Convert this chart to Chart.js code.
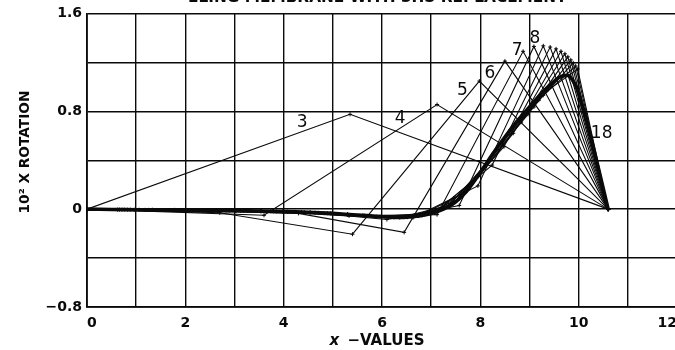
<!DOCTYPE html>
<html>
<head>
<meta charset="utf-8">
<script src="https://cdn.jsdelivr.net/npm/chart.js@4.4.1/dist/chart.umd.min.js"></script>
<style>
  html, body { margin: 0; padding: 0; overflow: hidden; background: #fff; }
  #wrap { position: relative; width: 700px; height: 350px; }
</style>
</head>
<body>
<div id="wrap"><canvas id="chart" width="700" height="350"></canvas></div>
<script>
// Polygonal solutions for n = 3 … 18 stations (x position, 10^2 x rotation)
const curve3X = [0, 5.35, 10.6];
const curve3Y = [0, 0.775, 0];
const curve4X = [0, 3.6, 7.12, 10.6];
const curve4Y = [0, -0.05, 0.855, 0];
const curve5X = [0, 2.7, 5.4, 7.98, 10.6];
const curve5Y = [0, -0.03, -0.205, 1.047, 0];
const curve6X = [0, 2.15, 4.3, 6.45, 8.5, 10.6];
const curve6Y = [0, -0.012, -0.035, -0.19, 1.21, 0];
const curve7X = [0, 1.78, 3.55, 5.33, 7.12, 8.87, 10.6];
const curve7Y = [0, -0.006, -0.017, -0.055, -0.045, 1.29, 0];
const curve8X = [0, 1.51, 3.03, 4.54, 6.1, 7.57, 9.09, 10.6];
const curve8Y = [0, -0.007, -0.013, -0.027, -0.085, 0.03, 1.33, 0];
const curve9X = [0, 1.33, 2.65, 3.98, 5.3, 6.63, 7.95, 9.28, 10.6];
const curve9Y = [0, -0.006, -0.012, -0.02, -0.045, -0.07, 0.19, 1.335, 0];
const curve10X = [0, 1.18, 2.36, 3.53, 4.71, 5.89, 7.07, 8.24, 9.42, 10.6];
const curve10Y = [0, -0.006, -0.011, -0.017, -0.03, -0.062, -0.03, 0.36, 1.325, 0];
const curve11X = [0, 1.06, 2.12, 3.18, 4.24, 5.3, 6.36, 7.42, 8.48, 9.54, 10.6];
const curve11Y = [0, -0.005, -0.01, -0.014, -0.023, -0.044, -0.068, 0.035, 0.51, 1.31, 0];
const curve12X = [0, 0.96, 1.93, 2.89, 3.85, 4.82, 5.78, 6.75, 7.71, 8.67, 9.64, 10.6];
const curve12Y = [0, -0.005, -0.009, -0.013, -0.019, -0.032, -0.056, -0.057, 0.14, 0.62, 1.29, 0];
const curve13X = [0, 0.88, 1.77, 2.65, 3.53, 4.42, 5.3, 6.18, 7.07, 7.95, 8.83, 9.72, 10.6];
const curve13Y = [0, -0.004, -0.008, -0.012, -0.016, -0.025, -0.043, -0.066, -0.027, 0.265, 0.71, 1.27, 0];
const curve14X = [0, 0.82, 1.63, 2.45, 3.26, 4.08, 4.89, 5.71, 6.52, 7.34, 8.15, 8.97, 9.78, 10.6];
const curve14Y = [0, -0.004, -0.007, -0.011, -0.015, -0.021, -0.033, -0.054, -0.066, 0.02, 0.385, 0.775, 1.245, 0];
const curve15X = [0, 0.76, 1.51, 2.27, 3.03, 3.79, 4.54, 5.3, 6.06, 6.81, 7.57, 8.33, 9.09, 9.84, 10.6];
const curve15Y = [0, -0.004, -0.007, -0.01, -0.013, -0.018, -0.027, -0.043, -0.063, -0.052, 0.085, 0.49, 0.835, 1.22, 0];
const curve16X = [0, 0.71, 1.41, 2.12, 2.83, 3.53, 4.24, 4.95, 5.65, 6.36, 7.07, 7.77, 8.48, 9.19, 9.89, 10.6];
const curve16Y = [0, -0.004, -0.007, -0.009, -0.012, -0.016, -0.023, -0.034, -0.052, -0.066, -0.025, 0.17, 0.575, 0.89, 1.195, 0];
const curve17X = [0, 0.66, 1.33, 1.99, 2.65, 3.31, 3.98, 4.64, 5.3, 5.96, 6.63, 7.29, 7.95, 8.61, 9.28, 9.94, 10.6];
const curve17Y = [0, -0.004, -0.006, -0.009, -0.012, -0.015, -0.02, -0.029, -0.043, -0.061, -0.061, 0.01, 0.27, 0.65, 0.93, 1.17, 0];
const curve18X = [0, 0.62, 1.25, 1.87, 2.49, 3.12, 3.74, 4.36, 4.99, 5.61, 6.24, 6.86, 7.48, 8.11, 8.73, 9.35, 9.98, 10.6];
const curve18Y = [0, -0.004, -0.006, -0.008, -0.011, -0.014, -0.018, -0.023, -0.035, -0.051, -0.067, -0.046, 0.055, 0.365, 0.71, 0.965, 1.145, 0];

// Converged solution (heavy line)
const limitX = [0, 0.5, 1, 1.5, 2, 2.5, 3, 3.5, 4, 4.5, 5, 5.5, 6, 6.25, 6.5, 6.75, 7, 7.25, 7.5, 7.75, 8, 8.25, 8.5, 8.75, 9, 9.25, 9.5, 9.65, 9.8, 9.95, 10.15, 10.35, 10.6];
const limitY = [0, -0.003, -0.005, -0.007, -0.009, -0.011, -0.013, -0.016, -0.02, -0.026, -0.035, -0.048, -0.062, -0.067, -0.066, -0.055, -0.035, 0, 0.06, 0.16, 0.3, 0.45, 0.59, 0.72, 0.835, 0.95, 1.045, 1.085, 1.09, 1.0, 0.74, 0.42, 0];

const curveNames = ['3','4','5','6','7','8','9','10','11','12','13','14','15','16','17','18'];
const curveXs = [curve3X, curve4X, curve5X, curve6X, curve7X, curve8X, curve9X, curve10X, curve11X, curve12X, curve13X, curve14X, curve15X, curve16X, curve17X, curve18X];
const curveYs = [curve3Y, curve4Y, curve5Y, curve6Y, curve7Y, curve8Y, curve9Y, curve10Y, curve11Y, curve12Y, curve13Y, curve14Y, curve15Y, curve16Y, curve17Y, curve18Y];

const xTickValues = [0, 2, 4, 6, 8, 10, 12];
const xTickLabels = ['0', '2', '4', '6', '8', '10', '12'];
const yTickValues = [-0.8, 0, 0.8, 1.6];
const yTickLabels = ['\u22120.8', '0', '0.8', '1.6'];

const titleText = 'ELING MEMBRANE WITH 3HS REPLACEMENT';
const xTitleItalic = 'x';
const xTitleRest = ' \u2212VALUES';
const yTitle = '10\u00B2 X ROTATION';

// Which curves get a number written beside them, and where (pixel offset from the peak station)
const labelledCurves = [
  { name: '3', dx: -48, dy: 8 },
  { name: '4', dx: -37, dy: 14 },
  { name: '5', dx: -17, dy: 10 },
  { name: '6', dx: -15, dy: 12 },
  { name: '7', dx: -6, dy: -1 },
  { name: '8', dx: 1, dy: -8 },
  { name: '18', dx: 24, dy: 65 }
];

const INK = '#0a0a0a';
const FONT = '"DejaVu Sans", Verdana, sans-serif';

function toPoints(xs, ys) {
  return xs.map((x, i) => ({ x: x, y: ys[i] }));
}

const datasets = [{
  label: 'limit',
  data: toPoints(limitX, limitY),
  showLine: true,
  borderColor: INK,
  borderWidth: 3.6,
  pointRadius: 0,
  tension: 0.25,
  borderJoinStyle: 'round'
}];
curveNames.forEach((name, i) => {
  datasets.push({
    label: name,
    data: toPoints(curveXs[i], curveYs[i]),
    showLine: true,
    borderColor: INK,
    borderWidth: 1.1,
    pointStyle: 'cross',
    pointRadius: 2,
    pointBorderWidth: 1,
    pointBorderColor: INK,
    pointBackgroundColor: INK,
    tension: 0
  });
});

function labelFor(values, labels, v) {
  for (let i = 0; i < values.length; i++) {
    if (Math.abs(values[i] - v) < 1e-6) return labels[i];
  }
  return '';
}

// Set a font whose size makes the text span the given width
function fitFont(ctx, style, text, width) {
  ctx.font = style + ' 20px ' + FONT;
  const size = 20 * width / ctx.measureText(text).width;
  return style + ' ' + size.toFixed(2) + 'px ' + FONT;
}

const annotate = {
  id: 'annotate',
  afterDraw(chart) {
    const ctx = chart.ctx;
    const xs = chart.scales.x, ys = chart.scales.y;
    ctx.save();
    ctx.fillStyle = INK;

    // numbers beside the curves, anchored at each curve's peak station
    ctx.font = '17px ' + FONT;
    ctx.textAlign = 'center';
    ctx.textBaseline = 'middle';
    labelledCurves.forEach(l => {
      const i = curveNames.indexOf(l.name);
      const px = curveXs[i], py = curveYs[i];
      const k = px.length - 2;
      ctx.fillText(l.name, xs.getPixelForValue(px[k]) + l.dx, ys.getPixelForValue(py[k]) + l.dy);
    });

    // y axis title
    ctx.save();
    ctx.translate(25, 152);
    ctx.rotate(-Math.PI / 2);
    ctx.font = fitFont(ctx, 'bold', yTitle, 123);
    ctx.textAlign = 'center';
    ctx.textBaseline = 'middle';
    ctx.fillText(yTitle, 0, 0);
    ctx.restore();

    // x axis title with italic variable
    ctx.textBaseline = 'middle';
    ctx.textAlign = 'left';
    const italicFont = 'italic bold 15px ' + FONT;
    const restFont = 'bold 15px ' + FONT;
    ctx.font = italicFont;
    const w1 = ctx.measureText(xTitleItalic).width + 3;
    ctx.font = restFont;
    const w2 = ctx.measureText(xTitleRest).width;
    const sx = 377 - (w1 + w2) / 2;
    ctx.font = italicFont;
    ctx.fillText(xTitleItalic, sx, 341);
    ctx.font = restFont;
    ctx.fillText(xTitleRest, sx + w1, 341);

    // heading, mostly above the top edge of the page
    ctx.font = fitFont(ctx, 'bold', titleText, 379);
    ctx.textAlign = 'left';
    ctx.textBaseline = 'alphabetic';
    ctx.fillText(titleText, 188, 2);
    ctx.restore();
  }
};

new Chart(document.getElementById('chart'), {
  type: 'scatter',
  data: { datasets: datasets },
  options: {
    responsive: false,
    animation: false,
    devicePixelRatio: 1,
    layout: { padding: { top: 13, right: 23, left: 0, bottom: 0 } },
    plugins: { legend: { display: false }, tooltip: { enabled: false } },
    elements: { line: { borderCapStyle: 'round' } },
    scales: {
      x: {
        type: 'linear', min: 0, max: 12,
        ticks: {
          stepSize: 1, autoSkip: false, maxRotation: 0, padding: 8, color: INK,
          align: 'inner',
          font: { family: FONT, size: 14, weight: 'bold' },
          callback: v => labelFor(xTickValues, xTickLabels, v)
        },
        grid: { color: INK, lineWidth: 1.4, drawTicks: false },
        border: { color: INK, width: 1.8 },
        afterFit: s => { s.height = 43; }
      },
      y: {
        type: 'linear', min: -0.8, max: 1.6,
        ticks: {
          stepSize: 0.4, autoSkip: false, padding: 5, color: INK,
          font: { family: FONT, size: 14, weight: 'bold' },
          callback: v => labelFor(yTickValues, yTickLabels, v)
        },
        grid: { color: INK, lineWidth: 1.4, drawTicks: false },
        border: { color: INK, width: 1.8 },
        afterFit: s => { s.width = 87; }
      }
    }
  },
  plugins: [annotate]
});
</script>
</body>
</html>
